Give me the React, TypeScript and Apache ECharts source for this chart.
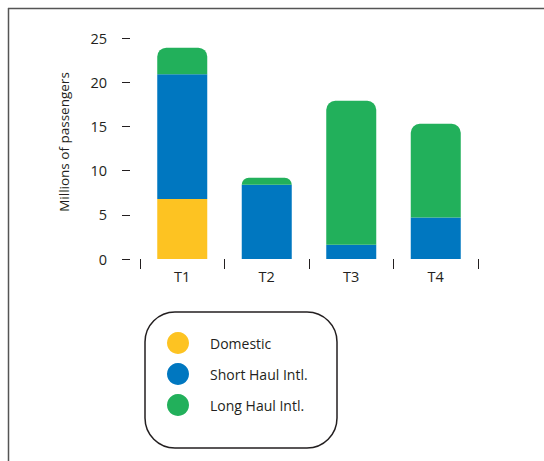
import React, { useEffect, useRef } from "react";
import * as echarts from "echarts";

// Passengers per terminal, millions
const categories = ["T1", "T2", "T3", "T4"];
const domestic = [6.8, 0, 0, 0];
const shortHaul = [14.1, 8.4, 1.6, 4.7];
const longHaul = [3.0, 0.8, 16.3, 10.6];
const yTicks = [0, 5, 10, 15, 20, 25];
const seriesNames = ["Domestic", "Short Haul Intl.", "Long Haul Intl."];
const yTitle = "Millions of passengers";

const COLORS = {
  domestic: "#FDC322",
  shortHaul: "#0077C0",
  longHaul: "#22B05B",
  text: "#231F20",
};

const FONT = "'Open Sans', 'Noto Sans', sans-serif";

export default function App() {
  const ref = useRef<HTMLDivElement>(null);

  useEffect(() => {
    if (!ref.current) return;
    const chart = echarts.init(ref.current, undefined, { renderer: "svg" });

    const topRadius = 9;

    chart.setOption({
      animation: false,
      backgroundColor: "#ffffff",
      textStyle: { fontFamily: FONT, color: COLORS.text },
      grid: { left: 140, right: 66, top: 38, bottom: 202 },
      xAxis: {
        type: "category",
        data: categories,
        offset: 8,
        axisLine: { show: false },
        axisTick: { show: true, length: 10, lineStyle: { color: COLORS.text, width: 1 } },
        axisLabel: { margin: 2, fontSize: 14.5, color: COLORS.text, fontFamily: FONT },
      },
      yAxis: {
        type: "value",
        min: yTicks[0],
        max: yTicks[yTicks.length - 1],
        interval: 5,
        offset: 10,
        splitLine: { show: false },
        axisLine: { show: false },
        axisTick: { show: true, length: 8, lineStyle: { color: COLORS.text, width: 1 } },
        axisLabel: { margin: 23, fontSize: 14.5, color: COLORS.text, fontFamily: FONT },
      },
      legend: {
        orient: "vertical",
        left: 167,
        top: 332,
        padding: 0,
        itemWidth: 22,
        itemHeight: 22,
        itemGap: 9,
        icon: "circle",
        textStyle: { fontSize: 14, color: COLORS.text, fontFamily: FONT, padding: [0, 0, 0, 16] },
        data: seriesNames,
      },
      graphic: [
        {
          type: "text",
          x: 64,
          y: 142,
          rotation: Math.PI / 2,
          style: {
            text: yTitle,
            fontSize: 13.5,
            fontFamily: FONT,
            fill: COLORS.text,
            align: "center",
            verticalAlign: "middle",
          },
          silent: true,
        },
        {
          type: "rect",
          shape: { x: 145, y: 312, width: 192, height: 136, r: 30 },
          style: { fill: "none", stroke: COLORS.text, lineWidth: 1.5 },
          silent: true,
        },
        {
          type: "line",
          shape: { x1: 8, y1: 8.5, x2: 544, y2: 8.5 },
          style: { stroke: "#555555", lineWidth: 1.5 },
          silent: true,
        },
        {
          type: "line",
          shape: { x1: 8.5, y1: 8, x2: 8.5, y2: 461 },
          style: { stroke: "#555555", lineWidth: 1.5 },
          silent: true,
        },
      ],
      series: [
        {
          name: seriesNames[0],
          type: "bar",
          stack: "total",
          barWidth: 50,
          itemStyle: { color: COLORS.domestic },
          data: domestic,
        },
        {
          name: seriesNames[1],
          type: "bar",
          stack: "total",
          barWidth: 50,
          itemStyle: { color: COLORS.shortHaul },
          data: shortHaul,
        },
        {
          name: seriesNames[2],
          type: "bar",
          stack: "total",
          barWidth: 50,
          itemStyle: {
            color: COLORS.longHaul,
            borderRadius: [topRadius, topRadius, 0, 0],
          },
          data: longHaul,
        },
      ],
    });

    return () => chart.dispose();
  }, []);

  return (
    <div
      ref={ref}
      style={{ position: "fixed", left: 0, top: 0, width: 544, height: 461 }}
    />
  );
}
